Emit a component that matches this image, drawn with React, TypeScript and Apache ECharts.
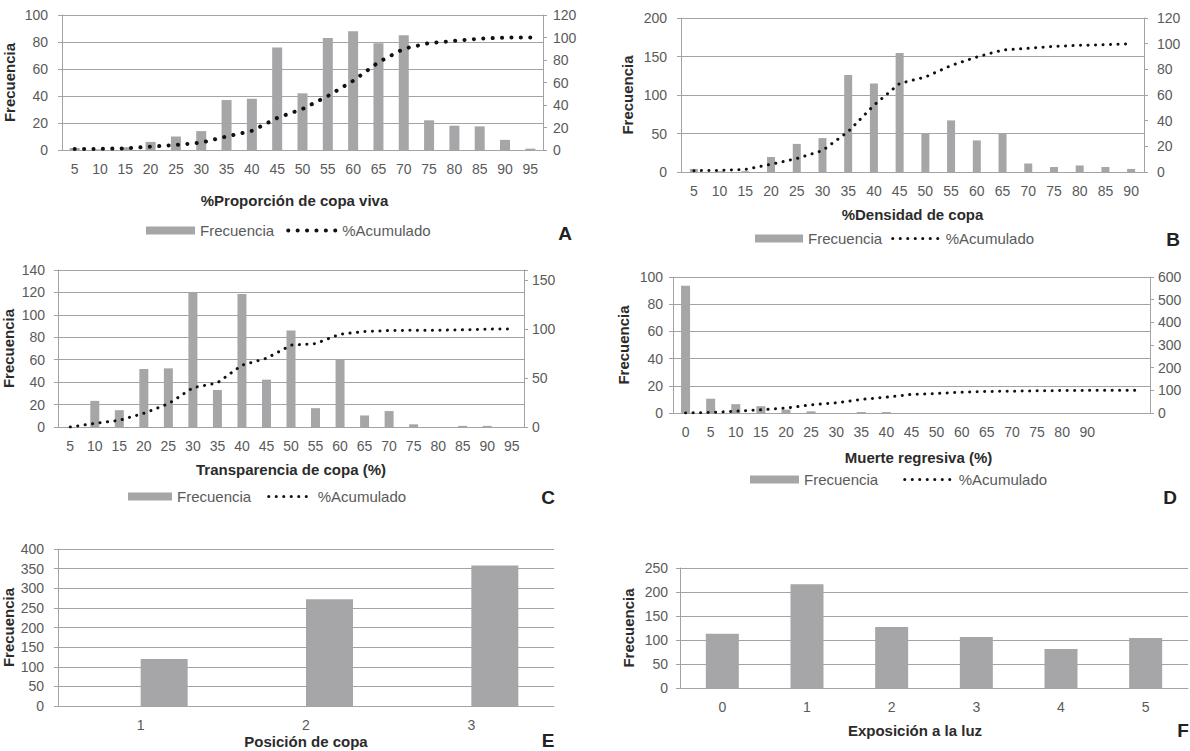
import React, { useEffect, useRef } from 'react';
import * as echarts from 'echarts';

const catsA = ['5', '10', '15', '20', '25', '30', '35', '40', '45', '50', '55', '60', '65', '70', '75', '80', '85', '90', '95'];
const freqA = [1.5, 0.5, 2, 6, 10, 14, 37, 38, 76, 42, 83, 88, 79, 85, 22, 18, 17.5, 7.5, 1];
const cumA = [1, 1, 1.5, 3, 4.5, 6.5, 12, 17, 28.5, 36.5, 48, 61.5, 78, 90, 95, 97, 99, 100, 100];

const catsB = ['5', '10', '15', '20', '25', '30', '35', '40', '45', '50', '55', '60', '65', '70', '75', '80', '85', '90'];
const freqB = [4, 1, 1, 19.5, 36.5, 44, 126, 115, 154.5, 50, 67, 41, 50, 11, 6.5, 8.5, 6.5, 4];
const cumB = [1, 1.3, 2, 6, 10.5, 16.7, 31.5, 52, 69, 74, 83, 89.6, 95, 96.4, 97.9, 98.7, 99.2, 100];

const catsC = ['5', '10', '15', '20', '25', '30', '35', '40', '45', '50', '55', '60', '65', '70', '75', '80', '85', '90', '95'];
const freqC = [0, 23.3, 15, 51.7, 52.3, 120, 33, 118.7, 42.2, 86, 16.8, 60, 10.3, 14.2, 2.4, 0, 1, 1, 0];
const cumC = [0, 3.7, 6.8, 14, 23.6, 40, 45, 63, 70, 83.4, 85, 94.6, 97.3, 98.3, 98.6, 98.6, 99, 99.7, 100];

const catsD = ['0', '5', '10', '15', '20', '25', '30', '35', '40', '45', '50', '60', '65', '70', '75', '80', '90', ' ', '  '];
const freqD = [93.5, 10.5, 6.5, 5, 2.5, 1.2, 0, 0.7, 0.7, 0, 0, 0, 0, 0, 0, 0, 0, 0, 0];
const cumD = [0, 2, 8, 14, 22, 36, 45, 60, 70, 82, 86, 92, 95, 96, 98, 99, 100, 100, 100];

const catsE = ['1', '2', '3'];
const freqE = [120, 272, 358];

const catsF = ['0', '1', '2', '3', '4', '5'];
const freqF = [113, 216, 127, 106, 81, 104];

const FONT = '"Liberation Sans", Arial, sans-serif';
const TICK = '#5a5a5a';
const LINEC = '#a3a3a3';
const BAR = '#a6a6a8';
const TITLE = '#2b2b2b';

function xAx(grid: number, data: string[], name: string, nameGap: number, margin: number, namePad: number[]) {
  return {
    type: 'category', gridIndex: grid, data,
    axisTick: { show: false },
    axisLine: { lineStyle: { color: LINEC, width: 1 } },
    axisLabel: { color: TICK, fontSize: 14, fontFamily: FONT, margin, interval: 0 },
    name, nameLocation: 'middle', nameGap,
    nameTextStyle: { fontWeight: 'bold', fontSize: 15, color: TITLE, fontFamily: FONT, padding: namePad },
  };
}

function yLeft(grid: number, max: number, interval: number, nameGap: number, margin: number) {
  return {
    type: 'value', gridIndex: grid, min: 0, max, interval, position: 'left',
    axisLine: { show: true, lineStyle: { color: LINEC } },
    axisTick: { show: true, length: 4, lineStyle: { color: LINEC } },
    splitLine: { show: true, lineStyle: { color: LINEC, width: 1 } },
    axisLabel: { color: TICK, fontSize: 14, fontFamily: FONT, margin },
    name: 'Frecuencia', nameLocation: 'middle', nameRotate: 90, nameGap,
    nameTextStyle: { fontWeight: 'bold', fontSize: 15, color: TITLE, fontFamily: FONT },
  };
}

function yRight(grid: number, max: number, interval: number, margin: number, hide?: number) {
  return {
    type: 'value', gridIndex: grid, min: 0, max, interval, position: 'right',
    axisLine: { show: true, lineStyle: { color: LINEC } },
    axisTick: { show: true, length: 4, lineStyle: { color: LINEC } },
    splitLine: { show: false },
    axisLabel: {
      color: TICK, fontSize: 14, fontFamily: FONT, margin,
      formatter: (v: number) => (hide !== undefined && v === hide ? '' : String(v)),
    },
  };
}

function barS(x: number, y: number, data: (number | string)[], w: number, name = 'Frecuencia') {
  return {
    type: 'bar', name, xAxisIndex: x, yAxisIndex: y, data, barWidth: w, barGap: '0%',
    itemStyle: { color: BAR }, silent: true,
  };
}

function lineS(x: number, y: number, data: number[], width: number, gap: number) {
  return {
    type: 'line', name: '%Acumulado', xAxisIndex: x, yAxisIndex: y, data,
    symbol: 'none', showSymbol: false, silent: true,
    itemStyle: { color: '#111' },
    lineStyle: { color: '#111', width, type: [0.1, gap], cap: 'round' },
  };
}

function legend(left: number, top: number, gap: number, width: number, lw: number, dash: number) {
  return {
    left, top, padding: 0, itemGap: gap, itemWidth: width, itemHeight: 8,
    data: [
      { name: 'Frecuencia', icon: 'rect' },
      { name: '%Acumulado', itemStyle: { opacity: 0 } },
    ],
    textStyle: { color: TICK, fontSize: 15, fontFamily: FONT },
    lineStyle: { width: lw, type: [0.1, dash], cap: 'round', color: '#111' },
    selectedMode: false,
  };
}

function letter(x: number, y: number, t: string) {
  return {
    type: 'text', x, y,
    style: { text: t, fontSize: 19, fontWeight: 'bold', fill: '#222', fontFamily: FONT, align: 'center', verticalAlign: 'middle' },
  };
}

export default function App() {
  const ref = useRef<HTMLDivElement>(null);
  useEffect(() => {
    if (!ref.current) return;
    const chart = echarts.init(ref.current, null, { renderer: 'svg' });
    const option = {
      animation: false,
      backgroundColor: '#ffffff',
      grid: [
        { left: 62, top: 15, width: 481, height: 135 },
        { left: 681, top: 18, width: 463, height: 154 },
        { left: 58, top: 270, width: 466, height: 157 },
        { left: 673, top: 277, width: 477, height: 136 },
        { left: 57, top: 549, width: 497, height: 157 },
        { left: 680, top: 568, width: 508, height: 120 },
      ],
      xAxis: [
        xAx(0, catsA, '%Proporción de copa viva', 43, 12, [0, 16, 0, 0]),
        xAx(1, catsB, '%Densidad de copa', 35, 12, [0, 0, 0, 0]),
        xAx(2, catsC, 'Transparencia de copa (%)', 35, 12, [0, 0, 0, 0]),
        xAx(3, catsD, 'Muerte regresiva (%)', 37, 12, [0, 0, 0, 14]),
        xAx(4, catsE, 'Posición de copa', 28, 12, [0, 0, 0, 0]),
        xAx(5, catsF, 'Exposición a la luz', 35, 12, [0, 38, 0, 0]),
      ],
      yAxis: [
        yLeft(0, 100, 20, 45, 14),
        yRight(0, 120, 20, 10),
        yLeft(1, 200, 50, 46, 14),
        yRight(1, 120, 20, 13),
        yLeft(2, 140, 20, 42, 13),
        yRight(2, 160, 50, 8, 160),
        yLeft(3, 100, 20, 42, 10),
        yRight(3, 600, 100, 8),
        yLeft(4, 400, 50, 42, 14),
        yLeft(5, 250, 50, 44, 12),
      ],
      legend: [
        legend(146, 223, 12, 49, 4, 9.3),
        legend(755, 231, 9, 48, 3, 7.4),
        legend(128, 489, 16, 44, 3, 7.4),
        legend(750, 472, 25, 49, 3, 7.4),
      ],
      series: [
        barS(0, 0, freqA, 10),
        lineS(0, 1, cumA, 4, 9.3),
        barS(1, 2, freqB, 8),
        lineS(1, 3, cumB, 3, 7.4),
        barS(2, 4, freqC, 9),
        lineS(2, 5, cumC, 3, 7.4),
        barS(3, 6, freqD, 9),
        lineS(3, 7, cumD, 3, 7.4),
        barS(4, 8, catsE.map(() => '-'), 47, 'vacía'),
        barS(4, 8, freqE, 47),
        barS(5, 9, freqF, 33),
      ],
      graphic: [
        letter(565, 233, 'A'),
        letter(1173, 239, 'B'),
        letter(548, 497, 'C'),
        letter(1170, 497, 'D'),
        letter(548, 740, 'E'),
        letter(1183, 730, 'F'),
      ],
    };
    chart.setOption(option as any);
    return () => chart.dispose();
  }, []);
  return <div ref={ref} style={{ position: 'absolute', left: 0, top: 0, width: 1190, height: 751 }} />;
}
